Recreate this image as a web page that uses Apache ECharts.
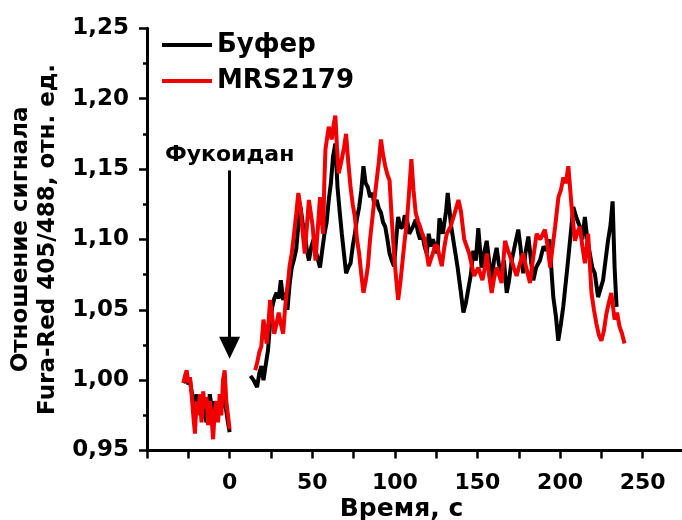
<!DOCTYPE html>
<html>
<head>
<meta charset="utf-8">
<script src="https://cdn.jsdelivr.net/npm/echarts@6/dist/echarts.min.js"></script>
<style>
    html, body { margin: 0; padding: 0; background: #fff; }
    #chart { width: 682px; height: 520px; }
</style>
</head>
<body>
<div id="chart"></div>
<script>
// время, с (null в значениях = разрыв линии после добавления фукоидана)
var bufferTime = [-28, -27, -26, -25, -24, -23, -22, -21, -20, -19, -18, -17, -16, -15, -14, -13, -12, -11, -10, -9, -8, -7, -6, -5, -4, -3, -2, -1, 0,
    6,
    12.6, 14.5, 16.6, 18, 19.2, 20.5, 22, 23.2, 24.5, 25.8, 27, 28.4, 29.7, 31, 32.4, 33.7, 35, 36.3, 37.6, 39, 40.3, 41.6, 42.9, 44.2,
    45.5, 46.8, 48, 49.5, 50.8, 52, 53.4, 54.7, 56, 57.4, 58.7, 60, 61.3, 62.6, 64, 65.3, 66.6, 67.9, 69.2, 70.5, 71.8, 73.2, 74.5,
    75.8, 77.1, 78.4, 79.7, 81, 82.3, 83.7, 85, 86.3, 87.6, 89, 90.3, 91.6, 92.9, 94.2, 95.5, 96.8, 98.1, 99.5, 100.8, 102, 103.4,
    104.7, 106, 107.4, 108.7, 110, 111.3, 112.6, 114, 115.3, 116.6, 118, 119.3, 120.5, 121.8, 123, 124.4, 125.8, 127, 129, 131, 132,
    134, 136, 138, 140, 141.5, 143, 144.5, 146, 147.5, 149, 150.5, 152.5, 154, 155.6, 157, 158.6, 160, 161.6, 163, 164.6, 166, 167.7,
    169, 170.7, 172.5, 174.7, 176, 177.7, 179, 180.8, 182.4, 183.8, 185.5, 187.8, 190, 191.9, 193.5, 195.9, 197.5, 198.9, 200.5,
    201.9, 203.5, 205, 206.5, 208, 210, 212, 213.5, 215, 216.5, 218, 219.5, 221, 223, 224.5, 226, 227.5, 229, 230.5, 231.8, 233, 234.2];
var bufferValue = [0.998, 1.000, 1.004, 0.997, 1.000, 0.992, 0.985, 0.978, 0.990, 0.982, 0.985, 0.978, 0.988, 0.975, 0.970, 0.978, 0.990, 0.982, 0.970, 0.985, 0.980, 0.975, 0.985, 0.980, 0.990, 0.985, 0.978, 0.970, 0.963,
    null,
    1.003, 1.000, 0.995, 1.005, 1.010, 1.000, 1.012, 1.021, 1.040, 1.052, 1.058, 1.062, 1.058, 1.071, 1.057, 1.062, 1.050, 1.068, 1.080, 1.086, 1.093, 1.110, 1.123, 1.112,
    1.104, 1.092, 1.085, 1.095, 1.100, 1.092, 1.086, 1.080, 1.092, 1.104, 1.112, 1.128, 1.140, 1.159, 1.168, 1.137, 1.120, 1.104, 1.090, 1.076, 1.080, 1.083, 1.095,
    1.104, 1.115, 1.123, 1.135, 1.152, 1.140, 1.137, 1.130, 1.133, 1.125, 1.128, 1.122, 1.119, 1.112, 1.109, 1.100, 1.090, 1.085, 1.081, 1.100, 1.116, 1.108,
    1.109, 1.117, 1.114, 1.104, 1.107, 1.110, 1.114, 1.105, 1.100, 1.104, 1.095, 1.090, 1.104, 1.095, 1.100, 1.095, 1.090, 1.115, 1.104, 1.120, 1.133,
    1.110, 1.095, 1.080, 1.062, 1.048, 1.055, 1.065, 1.075, 1.092, 1.085, 1.108, 1.080, 1.090, 1.099, 1.085, 1.071, 1.085, 1.094, 1.082, 1.076, 1.085, 1.062,
    1.070, 1.085, 1.095, 1.107, 1.095, 1.076, 1.090, 1.102, 1.085, 1.071, 1.080, 1.085, 1.095, 1.092, 1.100, 1.059, 1.045, 1.028, 1.040,
    1.052, 1.070, 1.087, 1.105, 1.123, 1.115, 1.109, 1.100, 1.116, 1.100, 1.090, 1.080, 1.076, 1.059, 1.065, 1.071, 1.085, 1.099, 1.110, 1.127, 1.080, 1.052];

var mrsTime = [-28, -27, -26, -25, -24, -23, -22, -21, -20, -19, -18, -17, -16, -15, -14, -13, -12, -11, -10, -9, -8, -7, -6, -5, -4, -3, -2, -1, 0,
    8,
    15.5, 16.6, 18, 19.2, 20.5, 21.5, 22.4, 23.5, 24.5, 25.8, 27, 28.4, 29.7, 31, 32.4, 33.5, 34.5, 35.4, 36.3, 37.6, 39, 40.3, 41.6,
    42.9, 44.2, 45.5, 46.8, 48, 49.2, 50.3, 51.2, 52, 53.4, 54.7, 55.6, 56.6, 57.3, 58, 59, 60, 61, 61.8, 63, 64, 65, 66, 67, 67.9,
    69.2, 70.5, 71.8, 73.2, 74.5, 75.8, 77.1, 78.4, 79.7, 81, 82.3, 83.7, 85, 86.3, 87.6, 89, 90.3, 91.6, 92.9, 94.2, 95.5, 96.8, 98.1,
    99.5, 100.8, 102, 103.4, 104.7, 106, 107.4, 108.7, 110, 111.3, 112.6, 114, 115.3, 116.6, 118, 119.3, 120.5, 121.8, 123, 124.4,
    125.8, 127, 128.4, 130, 131.4, 133.7, 136.3, 138.5, 140, 142, 145, 148, 150.5, 153, 154.5, 155.6, 157, 158.6, 160, 161.6, 163,
    164.6, 166.7, 168.5, 170.7, 172, 173.7, 175.5, 177.7, 179.5, 181.8, 183.5, 185.8, 188, 190.8, 192.5, 194, 195.5, 197, 199, 200.5,
    202, 203.5, 205, 207, 209, 210.5, 212, 213.5, 215, 217, 219, 220.5, 222, 223.5, 225, 226.5, 228, 229.5, 231, 233, 234.5, 236,
    237.5, 239];
var mrsValue = [0.998, 1.003, 1.007, 0.998, 1.002, 0.990, 0.975, 0.962, 0.985, 0.975, 0.990, 0.970, 0.992, 0.980, 0.988, 0.968, 0.985, 0.975, 0.958, 0.978, 0.985, 0.970, 0.990, 0.975, 1.000, 1.007, 0.985, 0.975, 0.965,
    null,
    1.007, 1.012, 1.020, 1.024, 1.043, 1.035, 1.026, 1.040, 1.057, 1.045, 1.033, 1.040, 1.048, 1.040, 1.033, 1.050, 1.062, 1.070, 1.081, 1.090, 1.104, 1.118, 1.133,
    1.123, 1.105, 1.090, 1.110, 1.128, 1.118, 1.109, 1.095, 1.085, 1.108, 1.130, 1.115, 1.104, 1.140, 1.164, 1.172, 1.180, 1.176, 1.171, 1.182, 1.188, 1.165, 1.147, 1.152, 1.157,
    1.165, 1.175, 1.155, 1.137, 1.125, 1.116, 1.100, 1.090, 1.075, 1.062, 1.070, 1.081, 1.100, 1.114, 1.128, 1.142, 1.155, 1.171, 1.160, 1.152, 1.146, 1.142, 1.115,
    1.090, 1.072, 1.057, 1.070, 1.085, 1.100, 1.114, 1.135, 1.157, 1.135, 1.119, 1.113, 1.109, 1.104, 1.100, 1.090, 1.081, 1.086, 1.090, 1.096,
    1.095, 1.088, 1.081, 1.095, 1.104, 1.109, 1.119, 1.128, 1.120, 1.100, 1.090, 1.074, 1.080, 1.071, 1.080, 1.090, 1.075, 1.062, 1.072, 1.080, 1.075,
    1.069, 1.099, 1.092, 1.085, 1.080, 1.074, 1.082, 1.090, 1.080, 1.069, 1.085, 1.104, 1.100, 1.107, 1.095, 1.080, 1.095, 1.109, 1.130, 1.135,
    1.144, 1.140, 1.152, 1.123, 1.099, 1.105, 1.109, 1.095, 1.083, 1.104, 1.062, 1.050, 1.040, 1.032, 1.028, 1.035, 1.047, 1.055, 1.062, 1.043, 1.048, 1.038,
    1.033, 1.026];

var xTicks = [0, 50, 100, 150, 200, 250];   // подписанные деления оси X
var stimulus = { t: 0, from: 1.149, to: 1.023, label: 'Фукоидан' };

function pairs(t, v) {
    return t.map(function(x, i) { return [x, v[i]]; });
}

var FONT = '"DejaVu Sans", sans-serif';

var chart = echarts.init(document.getElementById('chart'), null, { renderer: 'canvas' });
var option = {
    animation: false,
    backgroundColor: '#fff',
    grid: {
        left: 147,
        top: 28.3,
        width: 537,
        height: 422.2,
        outerBoundsMode: 'none'
    },
    legend: {
        orient: 'vertical',
        left: 157,
        top: 27,
        itemWidth: 50,
        itemHeight: 4,
        itemGap: 10,
        icon: 'rect',
        textStyle: { fontFamily: FONT, fontWeight: 'bold', fontSize: 26, color: '#000' },
        data: [
            { name: 'Буфер', itemStyle: { color: '#000' } },
            { name: 'MRS2179', itemStyle: { color: '#f00000' } }
        ]
    },
    xAxis: {
        type: 'value',
        min: -50,
        max: 275,
        interval: 25,
        name: 'Время, с',
        nameLocation: 'middle',
        nameGap: 46,
        nameMoveOverlap: false,
        nameTextStyle: { fontFamily: FONT, fontWeight: 'bold', fontSize: 25, color: '#000', padding: [0, 28, 0, 0] },
        splitLine: { show: false },
        axisLine: { onZero: false, lineStyle: { color: '#000', width: 3 } },
        axisTick: { length: 8, lineStyle: { color: '#000', width: 2.5 } },
        axisLabel: {
            margin: 22,
            fontFamily: FONT,
            fontWeight: 'bold',
            fontSize: 22,
            color: '#000',
            formatter: function(v) { return xTicks.indexOf(v) >= 0 ? String(v) : ''; }
        }
    },
    yAxis: {
        type: 'value',
        min: 0.95,
        max: 1.25,
        interval: 0.05,
        name: 'Отношение сигнала\nFura-Red 405/488, отн. ед.',
        nameLocation: 'middle',
        nameGap: 82,
        nameTextStyle: { fontFamily: FONT, fontWeight: 'bold', fontSize: 23, lineHeight: 27, color: '#000' },
        splitLine: { show: false },
        axisLine: { onZero: false, lineStyle: { color: '#000', width: 3 } },
        axisTick: { length: 8, lineStyle: { color: '#000', width: 2.5 } },
        minorTick: { show: true, splitNumber: 2, length: 4, lineStyle: { color: '#000', width: 2.5 } },
        axisLabel: {
            margin: 18,
            fontFamily: FONT,
            fontWeight: 'bold',
            fontSize: 23,
            color: '#000',
            formatter: function(v) { return v.toFixed(2).replace('.', ','); }
        }
    },
    series: [
        {
            name: 'Буфер',
            type: 'line',
            symbol: 'none',
            connectNulls: false,
            lineStyle: { color: '#000', width: 4 },
            itemStyle: { color: '#000' },
            data: pairs(bufferTime, bufferValue),
            markLine: {
                silent: true,
                symbol: ['none', 'triangle'],
                symbolSize: [21, 22],
                lineStyle: { color: '#000', width: 3, type: 'solid' },
                itemStyle: { color: '#000' },
                label: {
                    show: true,
                    position: 'start',
                    distance: 4,
                    formatter: stimulus.label,
                    fontFamily: FONT,
                    fontWeight: 'bold',
                    fontSize: 22,
                    color: '#000'
                },
                data: [[
                    { coord: [stimulus.t, stimulus.from] },
                    { coord: [stimulus.t, stimulus.to] }
                ]]
            }
        },
        {
            name: 'MRS2179',
            type: 'line',
            symbol: 'none',
            connectNulls: false,
            lineStyle: { color: '#f00000', width: 4 },
            itemStyle: { color: '#f00000' },
            data: pairs(mrsTime, mrsValue)
        }
    ]
};
chart.setOption(option);
</script>
</body>
</html>
